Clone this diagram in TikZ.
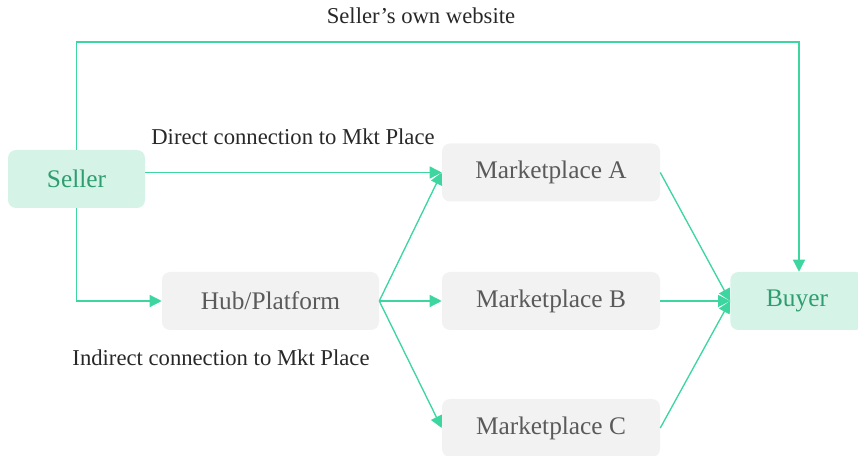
\documentclass[tikz,border=0pt]{standalone}
\usepackage{fontspec}
\setmainfont{Liberation Serif}
\usetikzlibrary{arrows.meta}
\definecolor{linegreen}{RGB}{61,214,160}
\definecolor{greenfill}{RGB}{214,243,232}
\definecolor{greentext}{RGB}{46,158,112}
\definecolor{greyfill}{RGB}{242,242,242}
\definecolor{greytext}{RGB}{90,90,90}
\definecolor{labeltext}{RGB}{40,40,40}
\tikzset{
  party/.style={fill=greenfill,text=greentext,rounded corners=6pt,
    minimum height=43.5pt,font=\fontsize{19}{22}\selectfont},
  market/.style={fill=greyfill,text=greytext,rounded corners=6pt,
    minimum width=163.5pt,minimum height=43.5pt,font=\fontsize{19}{22}\selectfont},
  link/.style={draw=linegreen,line width=1pt,-{Triangle[length=9pt,width=9pt]}},
  caption/.style={text=labeltext,font=\fontsize{17}{20}\selectfont}
}
\begin{document}
\begin{tikzpicture}[x=0.75pt,y=-0.75pt]
\useasboundingbox (0,0) rectangle (858,456);
% boxes
\node[party,minimum width=102.75pt] (seller) at (76.5,179) {Seller};
\node[market,minimum width=162.75pt] (hub) at (270.5,301) {Hub/Platform};
\node[market] (mA) at (551,172.5) {Marketplace A};
\node[market] (mB) at (551,301) {Marketplace B};
\node[market] (mC) at (551,428) {Marketplace C};
\node[party,minimum width=100pt] (buyer) at (797,301) {Buyer};
% labels
\node[caption] (own) at (421,16) {Seller’s own website};
\node[caption] (direct) at (293,137) {Direct connection to Mkt Place};
\node[caption] (indirect) at (221,358) {Indirect connection to Mkt Place};
% connectors
\coordinate (topL) at (76.5,42);
\coordinate (topR) at (799,42);
\draw[link] (seller.north) -- (topL) -- (topR) -- (topR |- buyer.north);
\draw[link] (seller.east |- mA.west) -- (mA.west);
\draw[link] (seller.south) |- (hub.west);
\draw[link] (hub.east) -- (mA.west);
\draw[link] (hub.east) -- (mB.west);
\draw[link] (hub.east) -- (mC.west);
\draw[link] (mA.east) -- (buyer.west);
\draw[link] (mB.east) -- (buyer.west);
\draw[link] (mC.east) -- (buyer.west);
\end{tikzpicture}
\end{document}
